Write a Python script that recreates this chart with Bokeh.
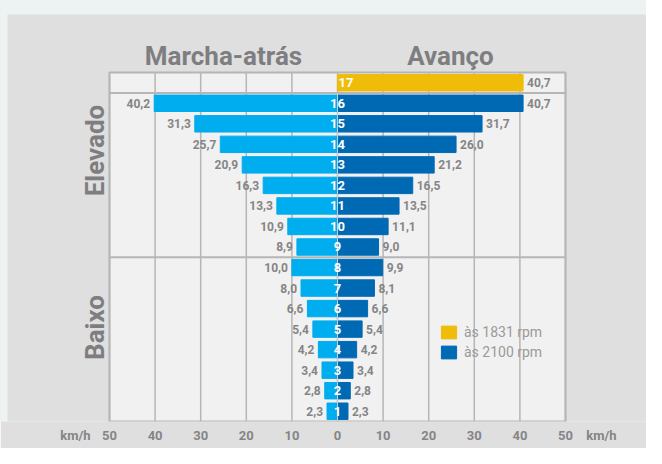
from bokeh.plotting import figure
from bokeh.models import (ColumnDataSource, FixedTicker, Label, Legend, LegendItem, Range1d)
from bokeh.core.properties import value
from bokeh.embed import file_html
from bokeh.resources import INLINE
import math

# ---- data ----
gears = [1, 2, 3, 4, 5, 6, 7, 8, 9, 10, 11, 12, 13, 14, 15, 16]
reverse_kmh = [2.3, 2.8, 3.4, 4.2, 5.4, 6.6, 8.0, 10.0, 8.9, 10.9, 13.3, 16.3, 20.9, 25.7, 31.3, 40.2]
forward_kmh = [2.3, 2.8, 3.4, 4.2, 5.4, 6.6, 8.1, 9.9, 9.0, 11.1, 13.5, 16.5, 21.2, 26.0, 31.7, 40.7]
top_gear = [17]
top_gear_kmh = [40.7]
tick_values = [-50, -40, -30, -20, -10, 0, 10, 20, 30, 40, 50]
tick_labels = ["50", "40", "30", "20", "10", "0", "10", "20", "30", "40", "50"]
series_labels = ["às 1831 rpm", "às 2100 rpm"]
side_titles = ["Marcha-atrás", "Avanço"]
group_labels = ["Elevado", "Baixo"]
unit_label = "km/h"

# ---- layout constants (pixels) ----
W, H = 646, 448
X0_PX = 337          # pixel of 0 km/h
PX_PER_KMH = 4.56
ROW_PX = 20.53
FRAME_BOTTOM_PX = 421
AXIS_PX = H - FRAME_BOTTOM_PX

x_start = -X0_PX / PX_PER_KMH
x_end = (W - X0_PX) / PX_PER_KMH
y_start = 0.5
y_end = 0.5 + FRAME_BOTTOM_PX / ROW_PX
n_rows = 17
plot_top = 0.5 + n_rows

def px_to_y(py):
    return 0.5 + (FRAME_BOTTOM_PX - py) / ROW_PX

def px_to_x(px):
    return (px - X0_PX) / PX_PER_KMH

FONT = value("Roboto")
GRAY = "#858585"
TITLE_GRAY = "#7e7e80"
LINE_GRAY = "#b6b6b6"

def fmt(v):
    return ("%.1f" % v).replace(".", ",")

rev_src = ColumnDataSource(dict(
    y=gears, left=[-v for v in reverse_kmh], right=[0] * len(gears),
    txt=[fmt(v) for v in reverse_kmh]))
fwd_src = ColumnDataSource(dict(
    y=gears, left=[0] * len(gears), right=forward_kmh,
    txt=[fmt(v) for v in forward_kmh], g=[str(g) for g in gears]))
top_src = ColumnDataSource(dict(
    y=top_gear, left=[0], right=top_gear_kmh,
    txt=[fmt(v) for v in top_gear_kmh], g=[str(g) for g in top_gear]))

p = figure(width=W, height=H, output_backend="svg", toolbar_location=None,
           x_range=Range1d(x_start, x_end), y_range=Range1d(y_start, y_end),
           y_axis_location=None, min_border_left=0, min_border_right=0,
           min_border_top=0, min_border_bottom=AXIS_PX)
p.background_fill_color = "#dfdfe0"
p.border_fill_color = "#dfdfe0"
p.outline_line_color = None
p.xgrid.visible = False
p.ygrid.visible = False

# page-like lighter strips (top and left)
p.quad(left=x_start, right=x_end, bottom=px_to_y(14), top=y_end, color="#edf3f3", line_color=None)
p.quad(left=x_start, right=px_to_x(7), bottom=y_start, top=y_end, color="#edf3f3", line_color=None)

# plot area
xmin, xmax = tick_values[0], tick_values[-1]
p.quad(left=xmin, right=xmax, bottom=0.5, top=plot_top, color="#f1f1f1", line_color=None)
p.segment(x0=tick_values, x1=tick_values, y0=[0.5] * len(tick_values), y1=[plot_top] * len(tick_values),
          line_color=LINE_GRAY, line_width=1.5)
p.segment(x0=[xmin, xmin], x1=[xmax, xmax], y0=[16.5, 8.5], y1=[16.5, 8.5],
          line_color=LINE_GRAY, line_width=2)
p.quad(left=xmin, right=xmax, bottom=0.5, top=plot_top, fill_color=None,
       line_color=LINE_GRAY, line_width=2)

# axis
ax = p.xaxis[0]
unit_ticks = [px_to_x(75), px_to_x(601)]
ax.ticker = FixedTicker(ticks=tick_values + unit_ticks)
overrides = {t: l for t, l in zip(tick_values, tick_labels)}
for t in unit_ticks:
    overrides[t] = unit_label
ax.major_label_overrides = overrides
ax.axis_line_color = None
ax.major_tick_line_color = None
ax.minor_tick_line_color = None
ax.major_tick_out = 0
ax.major_tick_in = 0
ax.major_label_standoff = 6
ax.major_label_text_font = "Roboto"
ax.major_label_text_font_style = "bold"
ax.major_label_text_font_size = "13px"
ax.major_label_text_color = GRAY

# bars
h = 0.8
p.hbar(y="y", left="left", right="right", height=h, source=rev_src, color="#00adee")
r_fwd = p.hbar(y="y", left="left", right="right", height=h, source=fwd_src, color="#0069b4")
r_top = p.hbar(y="y", left="left", right="right", height=h, source=top_src, color="#efbc0a")

# zero line over bars
p.segment(x0=[0], x1=[0], y0=[0.5], y1=[16.5], line_color="#c5ccd3", line_width=1)

# value labels
p.text(x="left", y="y", text="txt", source=rev_src, text_align="right", text_baseline="middle",
       x_offset=-4, text_font=FONT, text_font_style="bold", text_font_size="12px", text_color=GRAY)
p.text(x="right", y="y", text="txt", source=fwd_src, text_align="left", text_baseline="middle",
       x_offset=4, text_font=FONT, text_font_style="bold", text_font_size="12px", text_color=GRAY)
p.text(x="right", y="y", text="txt", source=top_src, text_align="left", text_baseline="middle",
       x_offset=4, text_font=FONT, text_font_style="bold", text_font_size="12px", text_color=GRAY)
# gear numbers
p.text(x=0, y="y", text="g", source=fwd_src, text_align="center", text_baseline="middle",
       text_font=FONT, text_font_style="bold", text_font_size="13px", text_color="white")
p.text(x=0, y="y", text="g", source=top_src, text_align="left", text_baseline="middle",
       x_offset=1, text_font=FONT, text_font_style="bold", text_font_size="13px", text_color="white")

# side titles
title_y = px_to_y(55)
p.add_layout(Label(x=px_to_x(223), y=title_y, text=side_titles[0], text_align="center",
                   text_baseline="alphabetic", text_font="Roboto", text_font_style="bold",
                   text_font_size="26px", text_color=TITLE_GRAY))
p.add_layout(Label(x=px_to_x(450), y=title_y, text=side_titles[1], text_align="center",
                   text_baseline="alphabetic", text_font="Roboto", text_font_style="bold",
                   text_font_size="26px", text_color=TITLE_GRAY))
# group labels (rotated)
group_x = px_to_x(94)
p.add_layout(Label(x=group_x, y=px_to_y(150), text=group_labels[0], angle=math.pi / 2,
                   text_align="center", text_baseline="alphabetic", text_font="Roboto",
                   text_font_style="bold", text_font_size="26px", text_color=TITLE_GRAY))
p.add_layout(Label(x=group_x, y=px_to_y(327), text=group_labels[1], angle=math.pi / 2,
                   text_align="center", text_baseline="alphabetic", text_font="Roboto",
                   text_font_style="bold", text_font_size="26px", text_color=TITLE_GRAY))

legend = Legend(items=[LegendItem(label=series_labels[0], renderers=[r_top]),
                       LegendItem(label=series_labels[1], renderers=[r_fwd])],
                location=(439, FRAME_BOTTOM_PX - 360), padding=0, margin=0, spacing=4,
                glyph_width=19, glyph_height=16, label_height=16, label_standoff=6,
                background_fill_alpha=0, border_line_color=None,
                label_text_font="Roboto", label_text_font_size="14px", label_text_color="#9a9a9a")
p.add_layout(legend)

open("out.html", "w").write(file_html(p, INLINE))
